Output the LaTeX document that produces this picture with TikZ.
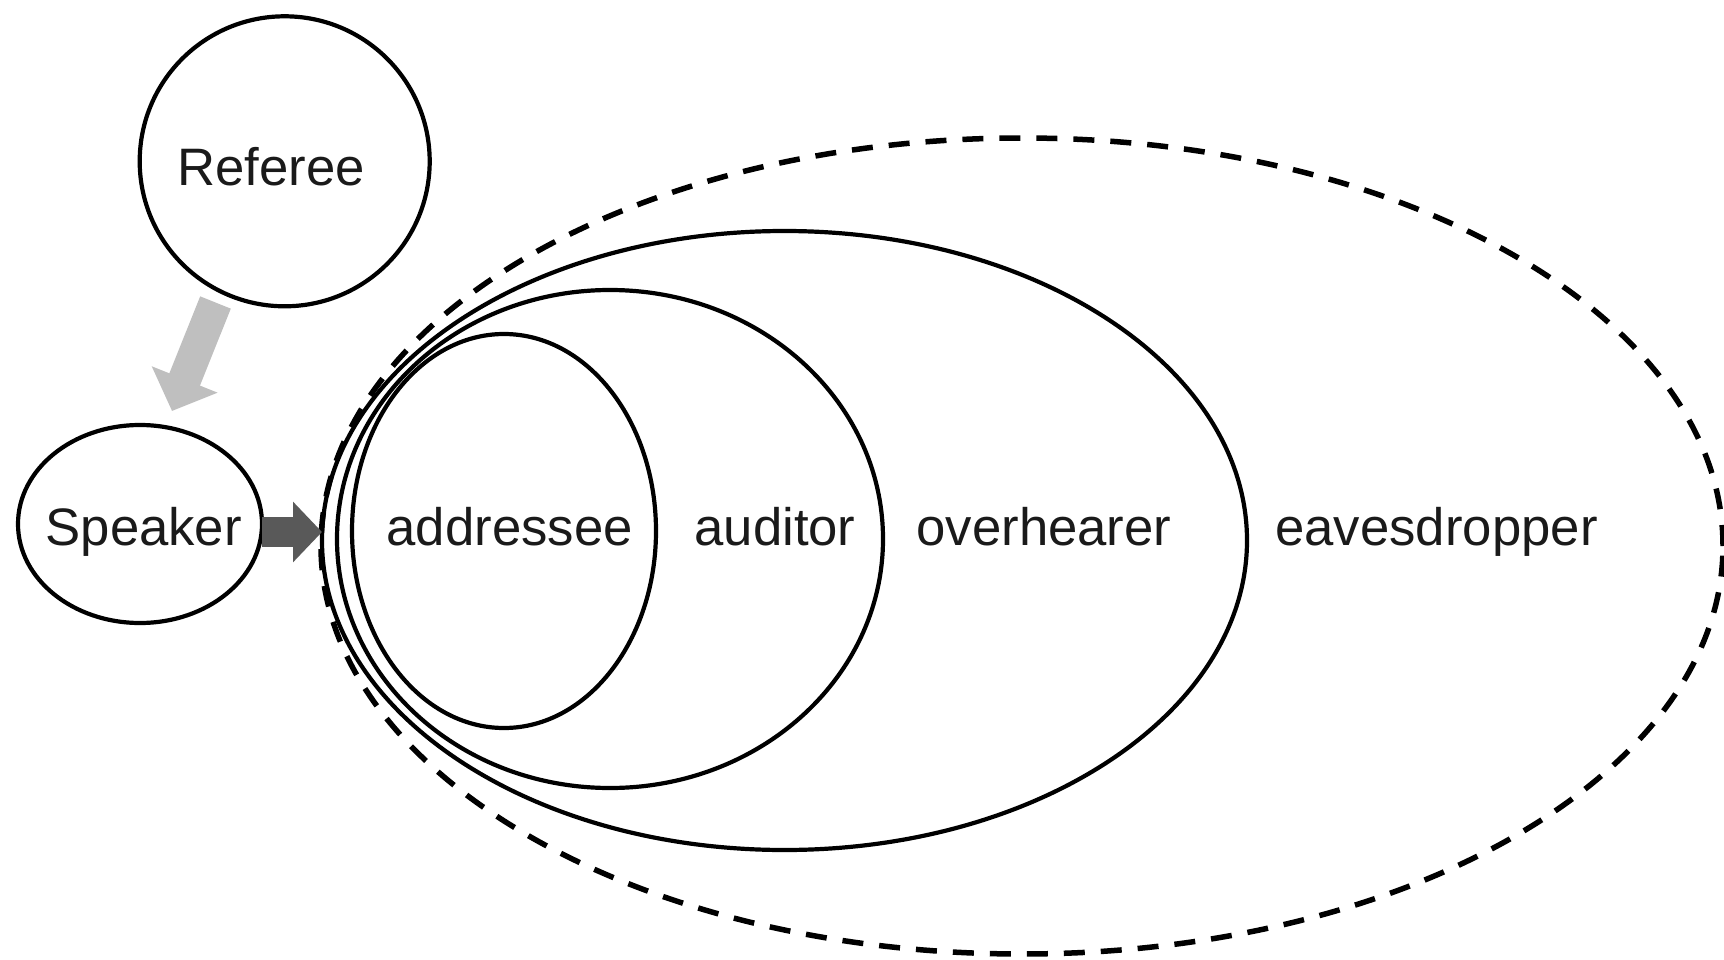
\documentclass[tikz,border=0pt]{standalone}
\usepackage{fontspec}
\setmainfont{Liberation Sans}
\usetikzlibrary{shapes.geometric,arrows.meta}
\definecolor{inktext}{HTML}{1A1A1A}
\definecolor{lightarrow}{HTML}{BFBFBF}
\definecolor{darkarrow}{HTML}{595959}

\begin{document}
\begin{tikzpicture}[x=1pt,y=-1pt,
  ring/.style={draw=black, line width=4.2pt, ellipse, inner sep=0pt, outer sep=0pt},
  dashring/.style={ring, line width=5.5pt, dash pattern=on 21pt off 16pt},
  lbl/.style={anchor=base, inner sep=0pt, text=inktext,
              font=\fontsize{52.7}{60}\selectfont}
]
\useasboundingbox (0,0) rectangle (1724,960);

% nested audience regions
\node[dashring, minimum width=1402pt, minimum height=816pt] (eaves) at (1022,546) {};
\node[ring, minimum width=925pt, minimum height=619pt] (over) at (784.5,540.5) {};
\node[ring, minimum width=546pt, minimum height=498pt] (aud) at (610,539) {};
\node[ring, minimum width=304pt, minimum height=394pt] (addr) at (504,531) {};

% referee and speaker
\node[ring, circle, minimum size=290pt] (ref) at (284.7,161.3) {};
\node[ring, minimum width=244pt, minimum height=198pt] (spk) at (140,524) {};

% labels
\node[lbl] (refT) at (271.3,185.7) {Referee};
\node[lbl] (spkT) at (143.7,545) {Speaker};
\node[lbl] (addrT) at (509.7,545) {addressee};
\node[lbl] (audT) at (775,545) {auditor};
\node[lbl] (overT) at (1044,545) {overhearer};
\node[lbl] (eavesT) at (1436.5,545) {eavesdropper};

% referee -> speaker
\coordinate (gTail) at (215.5,302.5);
\coordinate (gTip) at (172,411);
\draw[lightarrow, line width=33pt,
      -{Triangle[length=34pt, width=69pt]}] (gTail) -- (gTip);

% speaker -> audience
\coordinate (dTip) at (322,532);
\draw[darkarrow, line width=30pt,
      -{Triangle[length=29pt, width=59pt]}] (dTip -| spk.east) -- (dTip);
\end{tikzpicture}
\end{document}
